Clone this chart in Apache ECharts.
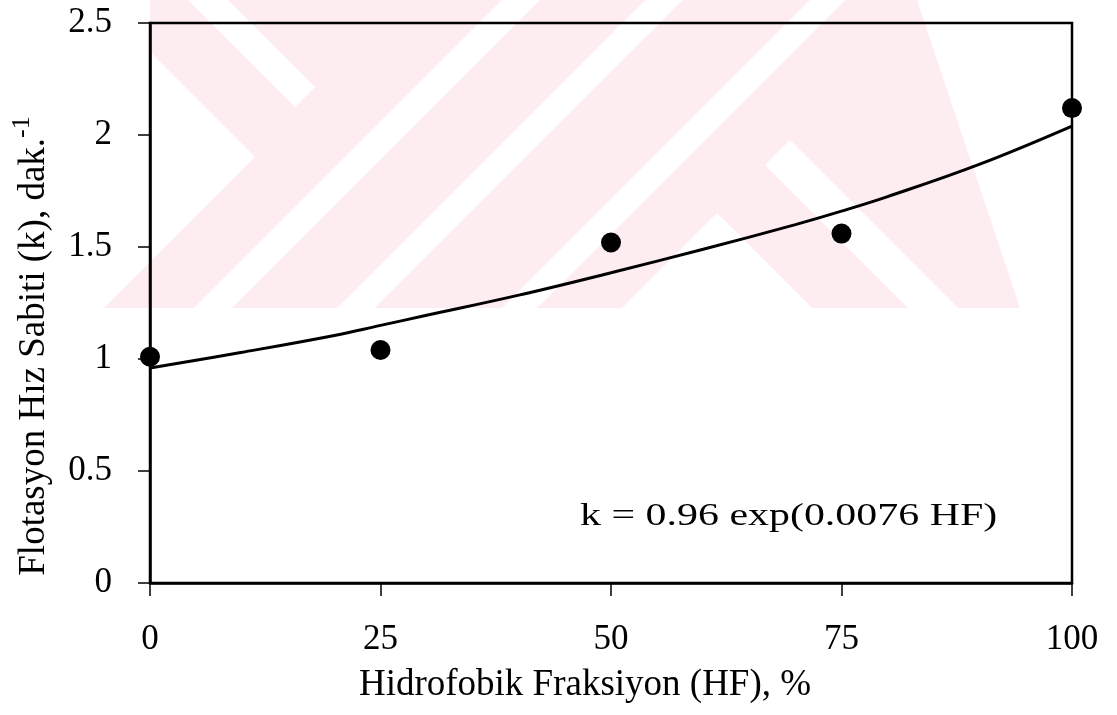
<!DOCTYPE html>
<html>
<head>
<meta charset="utf-8">
<script src="https://cdn.jsdelivr.net/npm/echarts@6/dist/echarts.min.js"></script>
<style>
html,body{margin:0;padding:0;background:#fff;}
#chart{width:1117px;height:715px;}
</style>
</head>
<body>
<div id="chart"></div>
<script>
// ---- data ----
const xTickValues = [0, 25, 50, 75, 100];
const yTickValues = [0, 0.5, 1, 1.5, 2, 2.5];
const measuredHF = [0, 25, 50, 75, 100];
const measuredK = [1.01, 1.04, 1.52, 1.56, 2.12];
const fitHF = [0, 10, 20, 25, 30, 40, 50, 60, 70, 75, 80, 90, 100];
const fitK = [0.96, 1.03, 1.105, 1.15, 1.195, 1.285, 1.385, 1.49, 1.60, 1.66, 1.725, 1.87, 2.04];
const xTitle = 'Hidrofobik Fraksiyon (HF), %';
const yTitle = 'Flotasyon Hız Sabiti (k), dak.';
const ySup = '-1';
const equationText = 'k = 0.96 exp(0.0076 HF)';

const FONT = 'Liberation Serif';
const PINK = '#fdedf0';

function band45(kind, a, b, y0, y1) {
  // kind '/' : a <= x+y <= b ; kind '\\' : a <= x-y <= b
  if (kind === '/') return [[a - y0, y0], [b - y0, y0], [b - y1, y1], [a - y1, y1]];
  return [[a + y0, y0], [b + y0, y0], [b + y1, y1], [a + y1, y1]];
}

const watermark = [
  { type: 'polygon', z: -20, silent: true, shape: { points: [[150, 0], [917, 0], [1020, 308], [100, 308], [150, 258]] }, style: { fill: PINK } },
  { type: 'polygon', z: -19, silent: true, shape: { points: [[0, 0], [98, 0], [255, 157], [104, 308], [0, 308]] }, style: { fill: '#fff' } },
  { type: 'polygon', z: -19, silent: true, shape: { points: [[188, 0], [228, 0], [315, 87], [295, 107]] }, style: { fill: '#fff' } },
  { type: 'polygon', z: -19, silent: true, shape: { points: band45('/', 502, 540, 0, 308) }, style: { fill: '#fff' } },
  { type: 'polygon', z: -19, silent: true, shape: { points: band45('/', 645, 683, 0, 308) }, style: { fill: '#fff' } },
  { type: 'polygon', z: -19, silent: true, shape: { points: band45('/', 810, 845, 0, 308) }, style: { fill: '#fff' } },
  { type: 'polygon', z: -19, silent: true, shape: { points: [[717, 213], [622, 308], [812, 308]] }, style: { fill: '#fff' } },
  { type: 'polygon', z: -19, silent: true, shape: { points: [[790, 140], [958, 308], [908, 308], [765, 165]] }, style: { fill: '#fff' } }
];

const chart = echarts.init(document.getElementById('chart'), null, { renderer: 'canvas' });

const option = {
  backgroundColor: '#ffffff',
  animation: false,
  grid: {
    left: 150, right: 45, top: 23, bottom: 132,
    show: true, borderColor: '#000', borderWidth: 2.5, backgroundColor: 'transparent'
  },
  xAxis: {
    type: 'value', min: 0, max: 100, interval: 25,
    name: xTitle, nameLocation: 'middle', nameGap: 84,
    nameTextStyle: { fontFamily: FONT, fontSize: 37, color: '#000', padding: [0, 52, 0, 0] },
    axisLine: { show: true, lineStyle: { color: '#000', width: 2.5 } },
    axisTick: { show: true, inside: false, length: 13, lineStyle: { color: '#000', width: 1.5 } },
    axisLabel: {
      margin: 39, fontFamily: FONT, fontSize: 35, color: '#000',
      formatter: function (v) { return xTickValues.indexOf(v) >= 0 ? String(v) : ''; }
    },
    splitLine: { show: false }
  },
  yAxis: {
    type: 'value', min: 0, max: 2.5, interval: 0.5,
    name: '{t|' + yTitle + '}{s|' + ySup + '}', nameLocation: 'middle', nameGap: 91, nameRotate: 90,
    nameTextStyle: {
      fontFamily: FONT, fontSize: 37, color: '#000', padding: [0, 86, 0, 0],
      rich: {
        t: { fontFamily: FONT, fontSize: 37, color: '#000', lineHeight: 50 },
        s: { fontFamily: FONT, fontSize: 26, color: '#000', verticalAlign: 'top', lineHeight: 26 }
      }
    },
    axisLine: { show: true, lineStyle: { color: '#000', width: 2.5 } },
    axisTick: { show: true, inside: false, length: 12, lineStyle: { color: '#000', width: 1.5 } },
    axisLabel: {
      margin: 38, fontFamily: FONT, fontSize: 35, color: '#000',
      formatter: function (v) { return yTickValues.indexOf(v) >= 0 ? String(v) : ''; }
    },
    splitLine: { show: false }
  },
  graphic: watermark.concat([
    {
      type: 'text', z: 100, x: 580, y: 517, scaleX: 1.31,
      style: { text: equationText, font: '32px "' + FONT + '"', fill: '#000', textVerticalAlign: 'middle', textAlign: 'left' }
    }
  ]),
  series: [
    {
      type: 'line', name: 'fit', smooth: 0.4, showSymbol: false, symbol: 'none',
      data: fitHF.map((h, i) => [h, fitK[i]]),
      lineStyle: { color: '#000', width: 3 }, z: 3
    },
    {
      type: 'scatter', name: 'data', symbol: 'circle', symbolSize: 20,
      data: measuredHF.map((h, i) => [h, measuredK[i]]),
      itemStyle: { color: '#000', opacity: 1 }, z: 4
    }
  ]
};
chart.setOption(option);
</script>
</body>
</html>
